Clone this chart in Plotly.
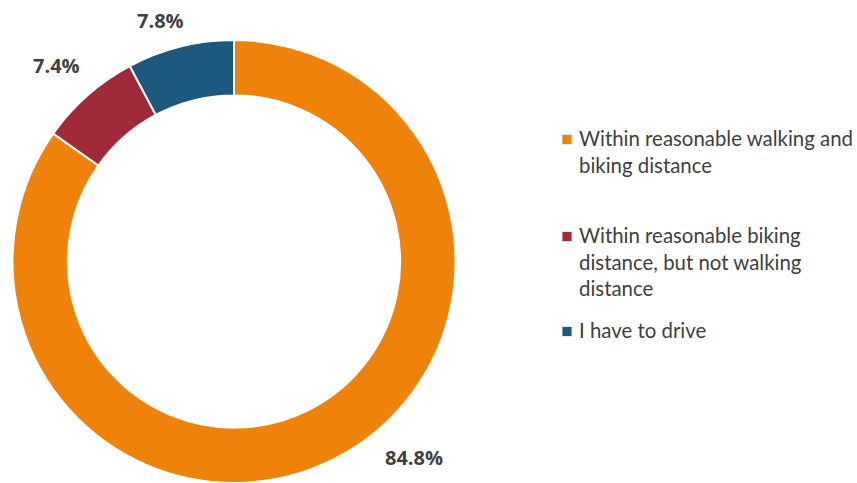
import plotly.graph_objects as go

# survey answers, clockwise from 12 o'clock
categories = [
    "Within reasonable walking and<br>biking distance",
    "Within reasonable biking<br>distance, but not walking<br>distance",
    "I have to drive",
]
shares = [84.8, 7.4, 7.8]
slice_colors = ["#EF820B", "#A0293A", "#1E587E"]

W, H = 857, 483


def px_to_paper(px, py):
    # canvas pixels -> paper coords (margins are zero)
    return px / W, 1 - py / H


fig = go.Figure(
    go.Pie(
        labels=categories,
        values=shares,
        hole=0.75,
        sort=False,
        direction="clockwise",
        rotation=0,
        textinfo="none",
        hoverinfo="label+percent",
        showlegend=False,
        marker=dict(colors=slice_colors, line=dict(color="white", width=2)),
        domain=dict(x=[12 / W, 456 / W], y=[0, 443 / H]),
    )
)

# percentage labels outside the ring
label_pos = [(414, 457), (56, 65), (160, 21)]
for v, (px, py) in zip(shares, label_pos):
    x, y = px_to_paper(px, py)
    fig.add_annotation(
        x=x, y=y, xref="paper", yref="paper",
        xanchor="center", yanchor="middle",
        text=f"<b>{v:.1f}%</b>",
        showarrow=False,
        font=dict(family="Open Sans", size=20, color="#404040"),
    )

# legend, spaced evenly like the source
legend_top = [124, 221, 316]
for name, col, top in zip(categories, slice_colors, legend_top):
    x, y = px_to_paper(577, top)
    fig.add_annotation(
        x=x, y=y, xref="paper", yref="paper",
        xanchor="left", yanchor="top", align="left",
        text=name, showarrow=False,
        font=dict(family="Lato", size=20.4, color="#404040"),
    )
    fig.add_shape(
        type="rect", xref="paper", yref="paper",
        x0=562 / W, x1=572 / W,
        y0=1 - (top + 20.5) / H, y1=1 - (top + 10.5) / H,
        fillcolor=col, line=dict(color="#E6E6E6", width=1),
    )

fig.update_layout(
    width=W,
    height=H,
    margin=dict(l=0, r=0, t=0, b=0),
    paper_bgcolor="white",
    plot_bgcolor="white",
    font=dict(family="Lato, Open Sans, sans-serif", color="#404040"),
)

fig.write_html(
    "out.html",
    config={"displayModeBar": False},
    post_script="document.body.style.margin='0';",
)
